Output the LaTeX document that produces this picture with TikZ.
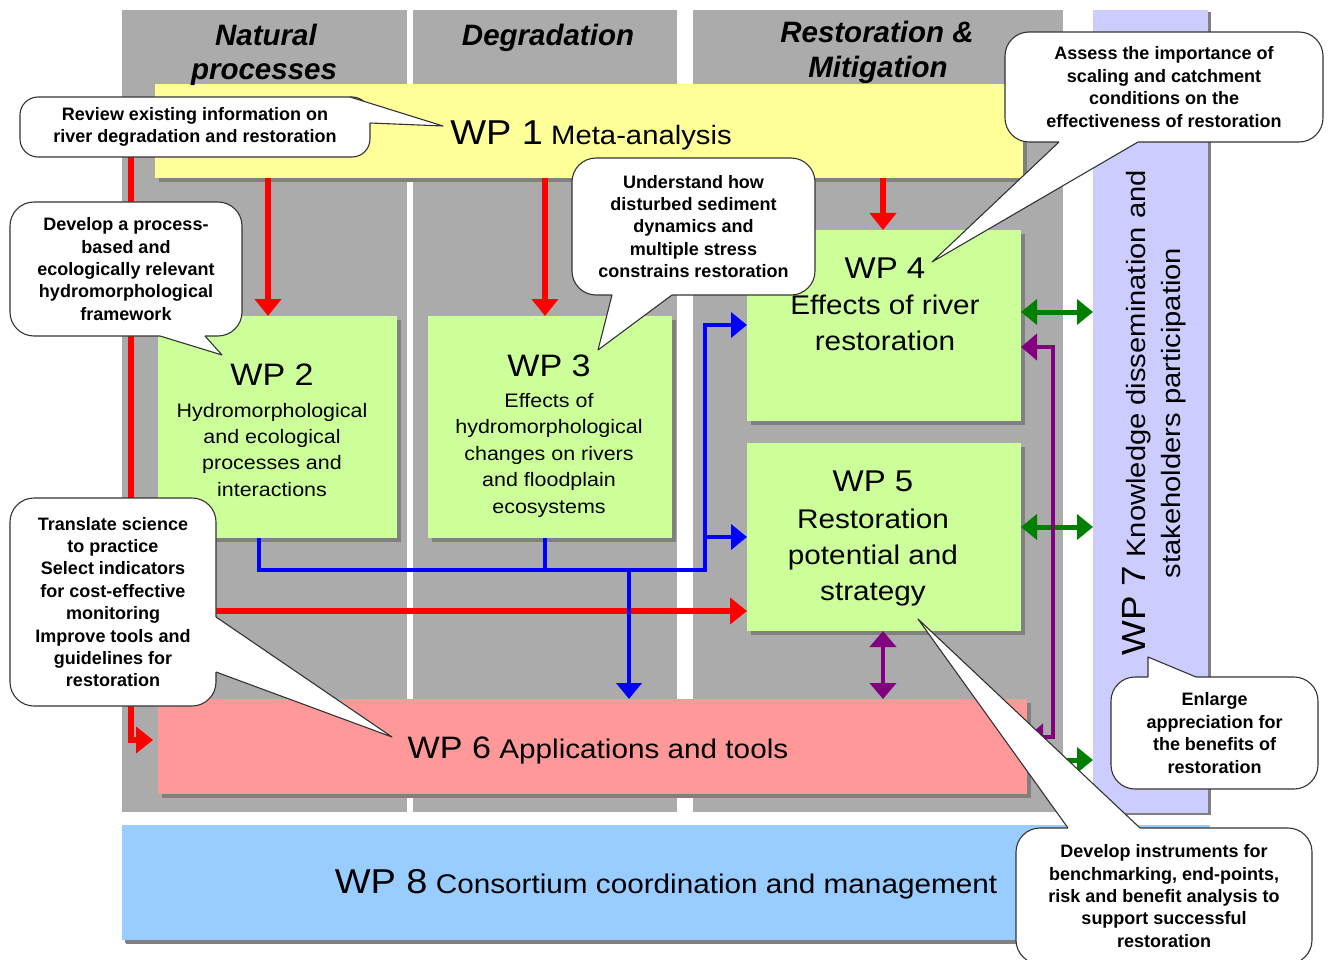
\documentclass[tikz,border=0pt]{standalone}
\usepackage{fontspec}
\setmainfont{Liberation Sans}
\newfontfamily\wpf[FakeStretch=1.1]{Liberation Sans}
\usetikzlibrary{arrows.meta,shadows}
\definecolor{colgray}{RGB}{171,171,171}
\definecolor{shadowc}{RGB}{128,128,128}
\definecolor{wpyellow}{RGB}{255,255,153}
\definecolor{wpgreen}{RGB}{204,255,153}
\definecolor{wppink}{RGB}{255,153,153}
\definecolor{wpblue}{RGB}{153,204,255}
\definecolor{wplav}{RGB}{204,204,255}
\definecolor{arrred}{RGB}{255,0,0}
\definecolor{arrblue}{RGB}{0,0,255}
\definecolor{arrgreen}{RGB}{0,128,0}
\definecolor{arrpurple}{RGB}{128,0,128}
\begin{document}
\begin{tikzpicture}[x=1pt,y=-1pt,
  col/.style={fill=colgray, anchor=north west, inner sep=0pt, outer sep=0pt},
  wpbox/.style={anchor=north west, inner sep=0pt, outer sep=0pt,
    drop shadow={shadow xshift=4pt, shadow yshift=-4pt, fill=shadowc, opacity=1}},
  coltitle/.style={anchor=base, inner sep=0pt, font=\bfseries\itshape\fontsize{29.5}{35}\selectfont},
  wptext/.style={inner sep=0pt, align=center},
  cbox/.style={draw=black!80, line width=1.1pt, fill=white, align=center, inner sep=0pt,
    font=\bfseries\fontsize{18}{22.4}\selectfont},
  tailedge/.style={draw=black!80, line width=1.1pt, line join=round},
  redline/.style={draw=arrred, line width=5.5pt, line join=miter},
  redarr/.style={redline, -{Triangle[width=26pt,length=17pt]}},
  blueline/.style={draw=arrblue, line width=4.5pt, line join=miter},
  bluearr/.style={blueline, -{Triangle[width=25pt,length=16pt]}},
  greenarr/.style={draw=arrgreen, line width=5pt, {Triangle[width=25pt,length=16pt]}-{Triangle[width=25pt,length=16pt]}},
  purparr/.style={draw=arrpurple, line width=4pt, line join=miter, {Triangle[width=26pt,length=16pt]}-{Triangle[width=26pt,length=16pt]}}
]
\fill[white] (0,0) rectangle (1328,960);
\useasboundingbox (0,0) rectangle (1328,960);

% columns
\node[col, minimum width=285pt, minimum height=802pt] (col1) at (122,10) {};
\node[col, minimum width=264pt, minimum height=802pt] (col2) at (413,10) {};
\node[col, minimum width=370pt, minimum height=802pt] (col3) at (693,10) {};
\node[anchor=north west, inner sep=0pt, outer sep=0pt, fill=wplav, minimum width=115pt, minimum height=803pt,
  drop shadow={shadow xshift=3pt, shadow yshift=-2pt, fill=shadowc, opacity=1}] (wp7) at (1093,10) {};
\node[wpbox, fill=wpblue, minimum width=1088pt, minimum height=115pt,
  drop shadow={shadow xshift=3pt, shadow yshift=-3pt, fill=shadowc, opacity=1}] (wp8) at (122,825) {};

% work package boxes
\node[wpbox, fill=wpyellow, minimum width=868pt, minimum height=94pt] (wp1) at (155,84) {};
\node[wpbox, fill=wpgreen, minimum width=239pt, minimum height=222pt] (wp2) at (158,316) {};
\node[wpbox, fill=wpgreen, minimum width=244pt, minimum height=222pt] (wp3) at (428,316) {};
\node[wpbox, fill=wpgreen, minimum width=274pt, minimum height=191pt] (wp4) at (747,230) {};
\node[wpbox, fill=wpgreen, minimum width=274pt, minimum height=188pt] (wp5) at (747,443) {};
\node[wpbox, fill=wppink, minimum width=869pt, minimum height=95pt] (wp6) at (158,699) {};

% column titles
\node[coltitle] (tnat1) at (266,46) {Natural};
\node[coltitle] (tnat2) at (264,80) {processes};
\node[coltitle] (tdeg) at (548,46) {Degradation};
\node[coltitle] (tres1) at (877,43) {Restoration \&};
\node[coltitle] (tres2) at (878,78) {Mitigation};

% texts
\node[wptext, anchor=base, font=\wpf\fontsize{26.6}{32}\selectfont] (wp1t) at (591,145)
  {{\fontsize{34.5}{40}\selectfont WP 1} Meta-analysis};
\node[wptext, anchor=north, font=\wpf\fontsize{19.5}{26.3}\selectfont] (wp2t) at (272,363.3)
  {{\fontsize{31}{26.3}\selectfont WP 2}\\[5.7pt] Hydromorphological\\ and ecological\\ processes and\\ interactions};
\node[wptext, anchor=north, font=\wpf\fontsize{19.5}{26.5}\selectfont] (wp3t) at (549,354.3)
  {{\fontsize{31}{26.5}\selectfont WP 3}\\[4.5pt] Effects of\\ hydromorphological\\ changes on rivers\\ and floodplain\\ ecosystems};
\node[wptext, anchor=north, font=\wpf\fontsize{27}{36}\selectfont] (wp4t) at (885,258)
  {{\fontsize{30}{36}\selectfont WP 4}\\ Effects of river\\ restoration};
\node[wptext, anchor=north, font=\wpf\fontsize{27}{36}\selectfont] (wp5t) at (873,471)
  {{\fontsize{30}{36}\selectfont WP 5}\\[1pt] Restoration\\ potential and\\ strategy};
\node[wptext, anchor=base, font=\wpf\fontsize{27}{32}\selectfont] (wp6t) at (598,758)
  {{\fontsize{31}{36}\selectfont WP 6} Applications and tools};
\node[wptext, anchor=base, font=\wpf\fontsize{27}{32}\selectfont] (wp8t) at (666,893)
  {{\fontsize{34.5}{40}\selectfont WP 8} Consortium coordination and management};
\node[wptext, rotate=90, font=\wpf\fontsize{26.5}{35}\selectfont] (wp7t) at (1154,413)
  {{\fontsize{33.5}{35}\selectfont WP 7} Knowledge dissemination and\\ stakeholders participation};

% red arrows
\draw[redarr] (268,0 |- wp1.south) -- (268,0 |- wp2.north);
\draw[redarr] (545,0 |- wp1.south) -- (545,0 |- wp3.north);
\draw[redarr] (883,0 |- wp1.south) -- (883,0 |- wp4.north);
\draw[redarr, shorten >=5pt] (wp1.west |- 0,127) -- (131,127) -- (131,740) -- (wp6.west |- 0,740);
\coordinate (rj) at (131,611);
\draw[redarr] (rj) -- (wp5.west |- rj);

% blue arrows
\coordinate (bj1) at (705,537);
\coordinate (bj2) at (629,570);
\draw[bluearr] (259,0 |- wp2.south) -- (259,570) -- (705,570) -- (705,325) -- (wp4.west |- 0,325);
\draw[blueline] (545,0 |- wp3.south) -- (545,570);
\draw[bluearr] (bj1) -- (wp5.west |- bj1);
\draw[bluearr] (bj2) -- (bj2 |- wp6.north);

% green arrows
\draw[greenarr] (wp4.east |- 0,312) -- (wp7.west |- 0,312);
\draw[greenarr] (wp5.east |- 0,527) -- (wp7.west |- 0,527);
\draw[greenarr] (wp6.east |- 0,760) -- (wp7.west |- 0,760);

% purple arrows
\draw[purparr] (883,0 |- wp5.south) -- (883,0 |- wp6.north);
\draw[purparr] (wp6.east |- 0,737) -- (1053,737) -- (1053,347) -- (wp4.east |- 0,347);

% callouts
\node[cbox, rounded corners=18pt, minimum width=350pt, minimum height=60pt] (c1) at (195,127)
  {Review existing information on\\river degradation and restoration};
\fill[white] (350,97) -- (443,126) -- (370,123) -- (362,123) -- (350,103) -- cycle;
\draw[tailedge] (350,97) -- (443,126) -- (370,123);

\node[cbox, rounded corners=24pt, minimum width=232pt, minimum height=134pt] (c2) at (126,269)
  {Develop a process-\\based and\\ecologically relevant\\hydromorphological\\framework};
\fill[white] (160,336) -- (222,355) -- (205,336) -- (205,329) -- (160,329) -- cycle;
\draw[tailedge] (160,336) -- (222,355) -- (205,336);

\node[cbox, rounded corners=24pt, minimum width=243pt, minimum height=137pt] (c3) at (693.5,226.5)
  {Understand how\\disturbed sediment\\dynamics and\\multiple stress\\constrains restoration};
\fill[white] (612,295) -- (598,350) -- (672,295) -- (672,288) -- (612,288) -- cycle;
\draw[tailedge] (612,295) -- (598,350) -- (672,295);

\node[cbox, rounded corners=24pt, minimum width=318pt, minimum height=110pt] (c4) at (1164,87)
  {Assess the importance of\\scaling and catchment\\conditions on the\\effectiveness of restoration};
\fill[white] (1059,142) -- (932,262) -- (1138,142) -- (1138,135) -- (1059,135) -- cycle;
\draw[tailedge] (1059,142) -- (932,262) -- (1138,142);

\node[cbox, rounded corners=24pt, minimum width=206pt, minimum height=208pt] (c5) at (113,602)
  {Translate science\\to practice\\Select indicators\\for cost-effective\\monitoring\\Improve tools and\\guidelines for\\restoration};
\fill[white] (216,617) -- (392,737) -- (216,672) -- (209,672) -- (209,617) -- cycle;
\draw[tailedge] (216,617) -- (392,737) -- (216,672);

\node[cbox, rounded corners=24pt, minimum width=207pt, minimum height=112pt] (c6) at (1214.5,733)
  {Enlarge\\appreciation for\\the benefits of\\restoration};
\fill[white] (1148,677) -- (1148,657) -- (1196,677) -- (1196,684) -- (1148,684) -- cycle;
\draw[tailedge] (1148,677) -- (1148,657) -- (1196,677);

\node[cbox, rounded corners=24pt, minimum width=296pt, minimum height=136pt] (c7) at (1164,896)
  {Develop instruments for\\benchmarking, end-points,\\risk and benefit analysis to\\support successful\\restoration};
\fill[white] (1068,828) -- (918,619) -- (1140,828) -- (1140,835) -- (1068,835) -- cycle;
\draw[tailedge] (1068,828) -- (918,619) -- (1140,828);
\end{tikzpicture}
\end{document}
